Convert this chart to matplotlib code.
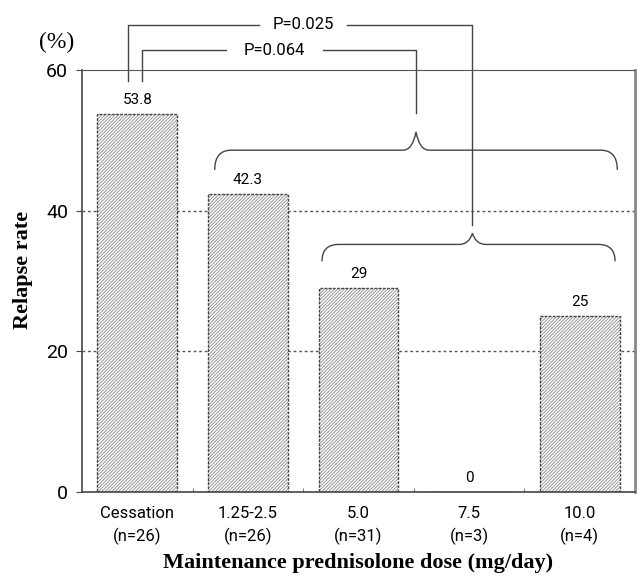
import matplotlib
matplotlib.use("Agg")
import matplotlib.pyplot as plt
from matplotlib.path import Path
from matplotlib.patches import PathPatch

categories = ["Cessation\n(n=26)", "1.25-2.5\n(n=26)", "5.0\n(n=31)", "7.5\n(n=3)", "10.0\n(n=4)"]
values = [53.8, 42.3, 29, 0, 25]
value_labels = ["53.8", "42.3", "29", "0", "25"]
yticks = [0, 20, 40, 60]
p_labels = ["P=0.064", "P=0.025"]

plt.rcParams['hatch.linewidth'] = 0.6
narrow = ["Roboto", "DejaVu Sans"]
serif = ["Liberation Serif", "DejaVu Serif"]
lc = "#444444"

fig = plt.figure(figsize=(6.37, 5.77), dpi=100)
ax = fig.add_axes([82/637, 85/577, 553/637, 422/577])
x = list(range(len(categories)))
ax.bar(x, values, width=0.72, color="white", edgecolor="#8a8a8a", hatch="//////////",
       linewidth=0, zorder=2)
ax.bar(x, values, width=0.72, fill=False, edgecolor="#444444",
       linewidth=1.0, linestyle=(0, (2, 1)), zorder=3)

ax.set_xlim(-0.5, 4.5)
ax.set_ylim(0, 60)
ax.set_yticks(yticks)
ax.set_yticklabels([str(t) for t in yticks], family=narrow, fontsize=14)
ax.set_xticks(x)
ax.set_xticklabels(categories, family=narrow, fontsize=12, linespacing=1.5)
ax.tick_params(axis="x", length=0, pad=10)
ax.set_xticks([0.5, 1.5, 2.5, 3.5], minor=True)
ax.tick_params(axis="x", which="minor", direction="in", length=3, color="#666666")
ax.tick_params(axis="y", direction="out", length=4, color="#444444", pad=6)
for yv in [20, 40]:
    ax.axhline(yv, color="#555555", lw=1.0, ls=(0, (2, 2)), zorder=0)
ax.spines["top"].set_linestyle((0, (2, 1)))
ax.spines["top"].set_color("#555555")
ax.spines["right"].set_color("#888888")
ax.spines["right"].set_linewidth(2)
ax.spines["left"].set_color("#444444")
ax.spines["bottom"].set_color("#444444")
ax.spines["left"].set_linewidth(1.2)
ax.spines["bottom"].set_linewidth(1.2)

for xi, v, lab in zip(x, values, value_labels):
    ax.text(xi, v + 2.0, lab, ha="center", va="center", family=narrow, fontsize=11)

ax.set_ylabel("Relapse rate", family=serif, fontweight="bold", fontsize=16)
ax.yaxis.set_label_coords(-0.088, 0.526)
ax.set_xlabel("Maintenance prednisolone dose (mg/day)", family=serif, fontweight="bold",
              fontsize=16, labelpad=6)
fig.text(57/637, 1 - 42/577, "(%)", family=serif, fontsize=17, ha="center", va="center")


def brace(x0, x1, xm, yh, yend, ypk, r=0.15):
    verts = [(x0, yend), (x0, yh), (x0 + r, yh),
             (xm - 0.12, yh),
             (xm - 0.03, yh), (xm, ypk),
             (xm + 0.03, yh), (xm + 0.12, yh),
             (x1 - r, yh),
             (x1, yh), (x1, yend)]
    codes = [Path.MOVETO, Path.CURVE3, Path.CURVE3,
             Path.LINETO,
             Path.CURVE3, Path.CURVE3,
             Path.CURVE3, Path.CURVE3,
             Path.LINETO,
             Path.CURVE3, Path.CURVE3]
    ax.add_patch(PathPatch(Path(verts, codes), fill=False, ec=lc, lw=1.0, clip_on=False))


brace(0.70, 4.34, 2.52, 48.6, 45.8, 51.2)
brace(1.67, 4.32, 3.03, 35.2, 32.8, 36.8)

# P=0.064 connector
ax.plot([0.04, 0.04, 0.80], [58.4, 62.8, 62.8], color=lc, lw=1.0, clip_on=False)
ax.plot([1.68, 2.52, 2.52], [62.8, 62.8, 53.9], color=lc, lw=1.0, clip_on=False)
ax.text(1.24, 62.8, p_labels[0], ha="center", va="center", family=narrow, fontsize=12)
# P=0.025 connector
ax.plot([-0.08, -0.08, 1.10], [58.4, 66.4, 66.4], color=lc, lw=1.0, clip_on=False)
ax.plot([1.90, 3.03, 3.03], [66.4, 66.4, 38.0], color=lc, lw=1.0, clip_on=False)
ax.text(1.50, 66.4, p_labels[1], ha="center", va="center", family=narrow, fontsize=12)

fig.savefig("out.png", dpi=100)
